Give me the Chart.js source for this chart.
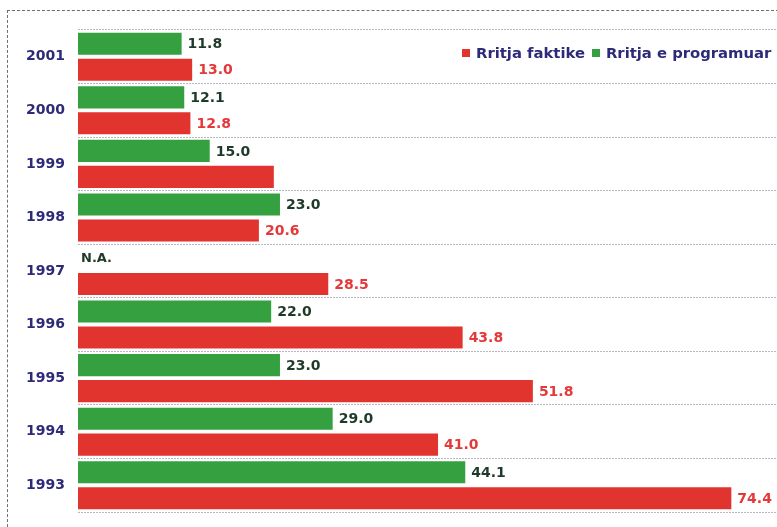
<!DOCTYPE html>
<html>
<head>
<meta charset="utf-8">
<script src="https://cdn.jsdelivr.net/npm/chart.js@4/dist/chart.umd.min.js"></script>
<style>
  html, body { margin: 0; padding: 0; background: #fff; overflow: hidden; }
  #wrap { position: relative; width: 777px; height: 527px; }
  #frame {
    position: absolute; left: 7px; top: 10px; width: 800px; height: 560px;
    border: 1px dashed #6f6f6f;
  }
  #chart { position: absolute; left: 0; top: 0; }
  #legend {
    position: absolute; left: 462px; top: 44px;
    font: bold 14.8px "DejaVu Sans", sans-serif; color: #2d2a78;
    white-space: nowrap;
  }
  #legend span.box {
    display: inline-block; width: 8px; height: 8px; margin-right: 6px;
    vertical-align: 1px;
  }
  #legend span.item { margin-right: 7px; }
</style>
</head>
<body>
<div id="wrap">
  <div id="frame"></div>
  <canvas id="chart" width="777" height="527"></canvas>
  <div id="legend"></div>
</div>
<script>
const years = ['2001', '2000', '1999', '1998', '1997', '1996', '1995', '1994', '1993'];
const plannedValues = [11.8, 12.1, 15.0, 23.0, null, 22.0, 23.0, 29.0, 44.1];
const actualValues = [13.0, 12.8, 22.3, 20.6, 28.5, 43.8, 51.8, 41.0, 74.4];
const actualHiddenLabels = ['1999'];
const missingText = 'N.A.';

const colors = {
  planned: '#35a03f',
  actual: '#e2342f',
  plannedText: '#1f3a2b',
  actualText: '#e5383a',
  axisText: '#2d2a78',
};

// value labels next to each bar
const valueLabels = {
  id: 'valueLabels',
  afterDatasetsDraw(chart) {
    const ctx = chart.ctx;
    const x0 = chart.scales.x.getPixelForValue(0);
    ctx.save();
    ctx.textBaseline = 'middle';
    ctx.textAlign = 'left';
    chart.data.datasets.forEach((ds, di) => {
      const meta = chart.getDatasetMeta(di);
      meta.data.forEach((bar, i) => {
        const v = ds.data[i];
        if (v === null) {
          ctx.font = 'bold 13px "DejaVu Sans", sans-serif';
          ctx.fillStyle = colors.plannedText;
          ctx.fillText(missingText, x0 + 3, bar.y + 1);
          return;
        }
        if (di === 1 && actualHiddenLabels.includes(years[i])) return;
        ctx.font = 'bold 14px "DejaVu Sans", sans-serif';
        ctx.fillStyle = di === 0 ? colors.plannedText : colors.actualText;
        ctx.fillText(v.toFixed(1), bar.x + 6, bar.y + 1);
      });
    });
    ctx.restore();
  },
};

new Chart(document.getElementById('chart'), {
  type: 'bar',
  data: {
    labels: years,
    datasets: [{
      label: 'Rritja e programuar',
      data: plannedValues,
      backgroundColor: colors.planned,
    }, {
      label: 'Rritja faktike',
      data: actualValues,
      backgroundColor: colors.actual,
    }],
  },
  options: {
    indexAxis: 'y',
    responsive: false,
    animation: false,
    barPercentage: 0.85,
    categoryPercentage: 0.97,
    layout: { padding: { top: 30, bottom: 15, left: 0, right: 0 } },
    plugins: {
      legend: { display: false },
      tooltip: { enabled: false },
    },
    scales: {
      x: {
        display: false,
        min: 0,
        max: 79.6,
      },
      y: {
        afterFit: (scale) => {
          scale.width = 78;
          scale.paddingTop = 0;
          scale.paddingBottom = 0;
        },
        border: { display: false, dash: [2, 1] },
        grid: {
          offset: true,
          drawTicks: false,
          color: '#b8b8c4',
          lineWidth: 1,
        },
        ticks: {
          padding: 13,
          color: colors.axisText,
          font: { family: 'DejaVu Sans', size: 14, weight: 'bold' },
        },
      },
    },
  },
  plugins: [valueLabels],
});

// legend: actual first, then planned
const legend = document.getElementById('legend');
[['Rritja faktike', colors.actual], ['Rritja e programuar', colors.planned]].forEach(([text, color]) => {
  const item = document.createElement('span');
  item.className = 'item';
  item.innerHTML = `<span class="box" style="background:${color}"></span>${text}`;
  legend.appendChild(item);
});
</script>
</body>
</html>
